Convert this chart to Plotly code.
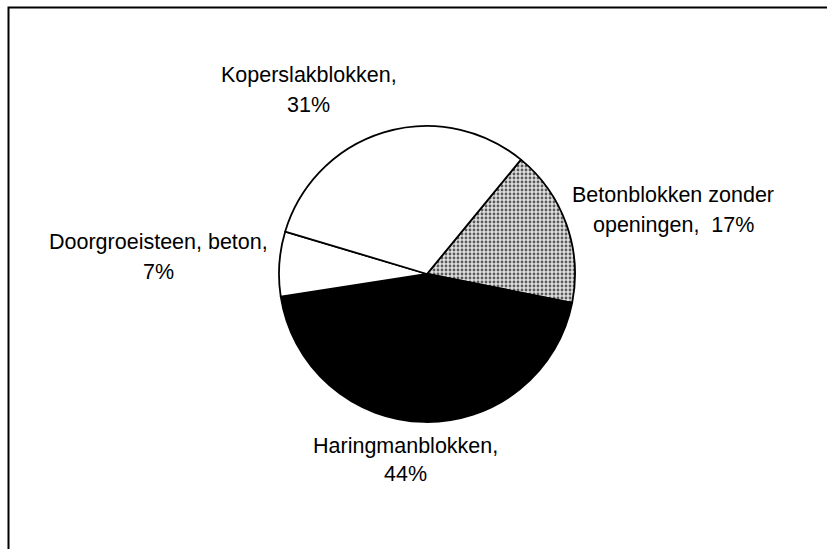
import plotly.graph_objects as go

# Data (clockwise from the slice starting at ~39 degrees)
labels = ["Betonblokken zonder openingen", "Haringmanblokken", "Doorgroeisteen, beton", "Koperslakblokken"]
values = [17, 44, 7, 31]
fills = ["#dcdcdc", "#000000", "#ffffff", "#ffffff"]

# label line layout: (first line, second line template)
label_lines = [
    ("Betonblokken zonder", "openingen,  {v}%"),
    ("Haringmanblokken,", "{v}%"),
    ("Doorgroeisteen, beton,", "{v}%"),
    ("Koperslakblokken,", "{v}%"),
]
# label centre positions in pixels (x, y line1, y line2)
label_pos = [
    (673, 194.5, 224.5),
    (405, 445.7, 473.7),
    (158.5, 241.7, 271.7),
    (308.5, 75, 105),
]

W, H = 827, 549
cx, cy, r = 427, 274, 148

fig = go.Figure()
fig.add_trace(go.Pie(
    labels=labels,
    values=values,
    sort=False,
    direction="clockwise",
    rotation=39.4,
    textinfo="none",
    hoverinfo="label+percent",
    showlegend=False,
    marker=dict(
        colors=fills,
        line=dict(color="#000000", width=1.8),
        pattern=dict(
            shape=[".", "", "", ""],
            fgcolor=["#5a5a5a", "#000000", "#ffffff", "#ffffff"],
            bgcolor=["#e0e0e0", "#000000", "#ffffff", "#ffffff"],
            size=4,
            solidity=0.4,
        ),
    ),
    domain=dict(x=[(cx - r) / W, (cx + r) / W], y=[(H - cy - r) / H, (H - cy + r) / H]),
))

font = dict(family="Liberation Sans, Arial, sans-serif", size=21.5, color="#000000")
annotations = []
for (l1, l2), (px, py1, py2), v in zip(label_lines, label_pos, values):
    annotations.append(dict(text=l1, x=px / W, y=1 - py1 / H, xref="paper", yref="paper",
                            xanchor="center", yanchor="middle", showarrow=False, font=font))
    annotations.append(dict(text=l2.format(v=v), x=px / W, y=1 - py2 / H, xref="paper", yref="paper",
                            xanchor="center", yanchor="middle", showarrow=False, font=font))

fig.update_layout(
    width=W, height=H,
    margin=dict(l=0, r=0, t=0, b=0),
    paper_bgcolor="#ffffff",
    plot_bgcolor="#ffffff",
    annotations=annotations,
    shapes=[dict(type="rect", xref="paper", yref="paper",
                 x0=8.5 / W, x1=1.02, y0=-0.02, y1=1 - 7.5 / H,
                 line=dict(color="#000000", width=2), fillcolor="rgba(0,0,0,0)", layer="below")],
)

fig.write_html("out.html", config={"displayModeBar": False},
               post_script="document.body.style.margin='0px';")
